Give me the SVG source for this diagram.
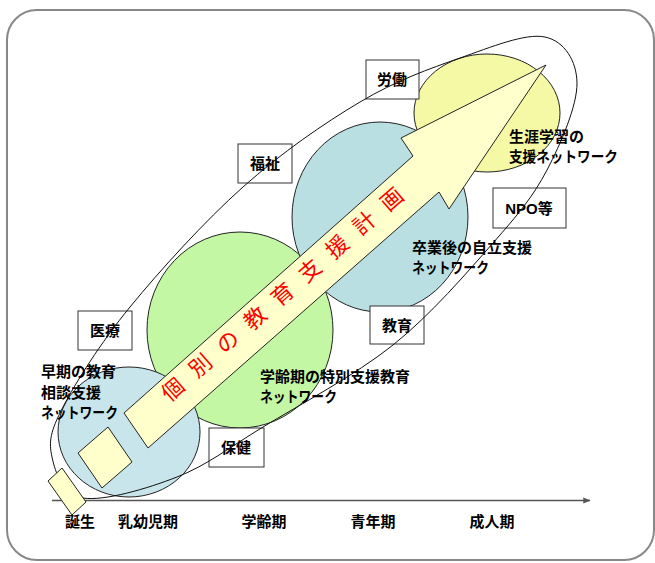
<svg xmlns="http://www.w3.org/2000/svg" width="655" height="563" viewBox="0 0 655 563">
<defs>
<style>
.c{stroke:#222;stroke-width:1}
.box{fill:#fff;stroke:#333;stroke-width:1}
.t{font-family:"Liberation Sans","Noto Sans CJK JP",sans-serif;font-weight:bold;font-size:15px;fill:#000}
.bl{text-anchor:middle}
.ar{fill:#ffffcc;stroke:#222;stroke-width:1}
.red{font-family:"Liberation Sans","Noto Sans CJK JP",sans-serif;font-size:22px;fill:#ff0000}
</style>
<marker id="ah" viewBox="0 0 10 10" refX="9" refY="5" markerWidth="5" markerHeight="5" orient="auto">
<path d="M0,1 L10,5 L0,9 Z" fill="#555"/>
</marker>
</defs>
<rect x="7" y="10" width="647" height="550" rx="30" ry="30" fill="#fff" stroke="#888" stroke-width="2"/>

<g id="circles">
<ellipse id="c-school" class="c" cx="240" cy="330" rx="93" ry="98" fill="#c3f7a3"/>
<ellipse id="c-early" class="c" cx="129" cy="432" rx="71" ry="65" fill="#c7e5ea"/>
<ellipse id="c-grad" class="c" cx="380" cy="217" rx="88" ry="95" fill="#b9dfe3"/>
<ellipse id="c-life" class="c" cx="487" cy="113" rx="73" ry="59" fill="#f5f9a6"/>
</g>

<g id="boxes">
<g id="b-roudou"><rect class="box" x="366" y="60" width="53" height="39"/><text class="t bl" x="392" y="85">労働</text></g>
<g id="b-fukushi"><rect class="box" x="238" y="144" width="54" height="39"/><text class="t bl" x="265" y="169">福祉</text></g>
<g id="b-npo"><rect class="box" x="493" y="188" width="73" height="40"/><text class="t bl" x="529" y="214">NPO等</text></g>
<g id="b-iryou"><rect class="box" x="78" y="311" width="54" height="39"/><text class="t bl" x="105" y="336">医療</text></g>
<g id="b-kyouiku"><rect class="box" x="370" y="306" width="54" height="38"/><text class="t bl" x="397" y="331">教育</text></g>
<g id="b-hoken"><rect class="box" x="209" y="428" width="55" height="39"/><text class="t bl" x="236" y="453">保健</text></g>
</g>

<g id="connectors">
<path fill="none" stroke="#111" stroke-width="1" d="M52,457 C48.67,441.83 50,432 63,407 C76,382 100,343.67 130,307 C160,270.33 204.67,221.17 243,187 C281.33,152.83 323.83,123.5 360,102 C396.17,80.5 429.17,68.83 460,58 C490.83,47.17 525.5,32.83 545,37 C564.5,41.17 576.67,60.83 577,83 C577.33,105.17 561,143.33 547,170 C533,196.67 518.67,213.83 493,243 C467.33,272.17 431.33,314.33 393,345 C354.67,375.67 299,405 263,427 C227,449 207,465.17 177,477 C147,488.83 103.83,501.33 83,498 C62.17,494.67 55.33,472.17 52,457 Z"/>
<line x1="52" y1="500.5" x2="590" y2="500.5" stroke="#555" stroke-width="1.5" marker-end="url(#ah)"/>
</g>

<g id="arrow">
<polygon class="ar" points="48,481 62,468 86,502 72,515"/>
<polygon class="ar" points="78,453 108,427 132,462 102,488"/>
<polygon class="ar" points="124,413 413,156 401,138 546,65 449,209 439,192 148,448"/>
<text class="red" x="283" y="302" text-anchor="middle" textLength="312" lengthAdjust="spacing" transform="rotate(-41 283 295)">個 別 の 教 育 支 援 計 画</text>
</g>

<g id="labels">
<text class="t" x="41" y="377">早期の教育</text>
<text class="t" x="41" y="398">相談支援</text>
<text class="t" x="41" y="418" textLength="77" lengthAdjust="spacingAndGlyphs">ネットワーク</text>
<text class="t" x="260" y="382">学齢期の特別支援教育</text>
<text class="t" x="260" y="402" textLength="77" lengthAdjust="spacingAndGlyphs">ネットワーク</text>
<text class="t" x="412" y="253">卒業後の自立支援</text>
<text class="t" x="412" y="273" textLength="77" lengthAdjust="spacingAndGlyphs">ネットワーク</text>
<text class="t" x="509" y="142">生涯学習の</text>
<text class="t" x="509" y="162" textLength="109" lengthAdjust="spacingAndGlyphs">支援ネットワーク</text>
</g>

<g id="axis-labels">
<text class="t bl" x="80" y="527">誕生</text>
<text class="t bl" x="148" y="527">乳幼児期</text>
<text class="t bl" x="264" y="527">学齢期</text>
<text class="t bl" x="373" y="527">青年期</text>
<text class="t bl" x="492" y="527">成人期</text>
</g>
</svg>
